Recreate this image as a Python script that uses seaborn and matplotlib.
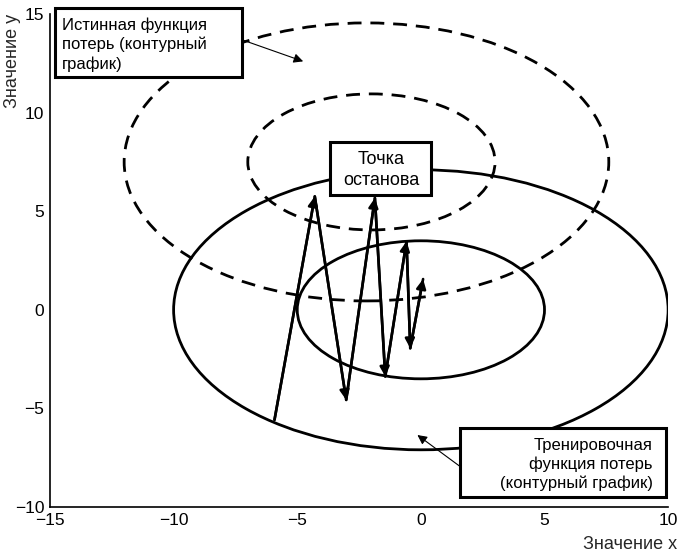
import matplotlib
matplotlib.use("Agg")
import matplotlib.pyplot as plt
from matplotlib.patches import Ellipse, Rectangle
import seaborn as sns

# contour ellipses: centre x, centre y, semi-axis x, semi-axis y
TRUE_CX = [-2.2, -2.0]
TRUE_CY = [7.5, 7.5]
TRUE_AX = [9.8, 5.0]
TRUE_AY = [7.05, 3.45]

TRAIN_CX = [0.0, 0.0]
TRAIN_CY = [0.0, 0.0]
TRAIN_AX = [10.0, 5.0]
TRAIN_AY = [7.1, 3.5]

# optimisation path
PATH_X = [-5.92, -4.29, -3.02, -1.86, -1.44, -0.58, -0.43, 0.09]
PATH_Y = [-5.58, 5.75, -4.57, 5.67, -3.38, 3.47, -1.95, 1.56]

X_TICKS = [-15, -10, -5, 0, 5, 10]
Y_TICKS = [-10, -5, 0, 5, 10, 15]

sns.set_theme(style="white")
plt.rcParams["font.family"] = ["Liberation Sans", "DejaVu Sans"]

fig = plt.figure(figsize=(6.79, 5.57), dpi=100)
ax = fig.add_axes([0.0736, 0.0898, 0.9104, 0.885])


def box(x0, y0, x1, y1):
    ax.add_patch(Rectangle((x0, y0), x1 - x0, y1 - y0, facecolor="white",
                           edgecolor="black", linewidth=2.2, clip_on=False, zorder=4))


def arrow(x0, y0, x1, y1, lw):
    ax.annotate("", xy=(x1, y1), xytext=(x0, y0), annotation_clip=False,
                arrowprops=dict(arrowstyle="-|>", color="black", lw=lw,
                                mutation_scale=14, shrinkA=0, shrinkB=0), zorder=3)


for cx, cy, a, b in zip(TRUE_CX, TRUE_CY, TRUE_AX, TRUE_AY):
    ax.add_patch(Ellipse((cx, cy), 2 * a, 2 * b, fill=False, edgecolor="black",
                         linewidth=2.0, linestyle=(0, (5, 3.2))))
for cx, cy, a, b in zip(TRAIN_CX, TRAIN_CY, TRAIN_AX, TRAIN_AY):
    ax.add_patch(Ellipse((cx, cy), 2 * a, 2 * b, fill=False, edgecolor="black",
                         linewidth=2.0))

sns.lineplot(x=PATH_X, y=PATH_Y, sort=False, estimator=None, color="black",
             linewidth=1.9, ax=ax)
for i in range(1, len(PATH_X)):
    arrow(PATH_X[i - 1], PATH_Y[i - 1], PATH_X[i], PATH_Y[i], 1.9)

txt = dict(color="black", linespacing=1.3, zorder=5)

box(-14.8, 11.8, -7.25, 15.3)
ax.text(-14.52, 13.45, "Истинная функция\nпотерь (контурный\nграфик)",
        ha="left", va="center", fontsize=12, **txt)
arrow(-7.25, 13.7, -4.76, 12.6, 0.8)

box(-3.67, 5.84, 0.42, 8.5)
ax.text(-1.59, 7.08, "Точка\nостанова", ha="center", va="center", fontsize=13, **txt)

box(1.59, -9.49, 9.9, -5.99)
ax.text(9.38, -7.85, "Тренировочная\nфункция потерь\n(контурный график)",
        ha="right", va="center", fontsize=12, **txt)
arrow(1.59, -7.95, -0.14, -6.35, 0.8)

ax.set_xlim(-15, 10)
ax.set_ylim(-10, 15)
ax.set_xticks(X_TICKS)
ax.set_yticks(Y_TICKS)
ax.tick_params(direction="in", length=4, width=1, labelsize=12.5, colors="black", pad=4)
for side in ["top", "right"]:
    ax.spines[side].set_visible(False)
for side in ["left", "bottom"]:
    ax.spines[side].set_color("black")
    ax.spines[side].set_linewidth(1.2)
ax.set_facecolor("white")

ax.set_ylabel("Значение y", fontsize=13, loc="top")
ax.yaxis.set_label_coords(-0.047, 1.0)
ax.set_xlabel("Значение x", fontsize=13, loc="right")
ax.xaxis.set_label_coords(1.014, -0.058)

fig.savefig("out.png", dpi=100, facecolor="white")
